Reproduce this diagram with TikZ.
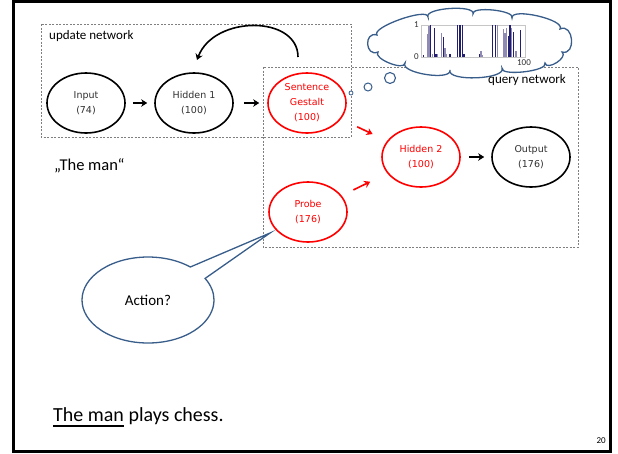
\documentclass[tikz,border=0pt]{standalone}
\usepackage{fontspec}
\setmainfont{Carlito}
\newfontfamily\unitfont{DejaVu Sans}
\usetikzlibrary{arrows.meta,shapes.geometric,shapes.callouts,calc}

\definecolor{shapeblue}{HTML}{385D8A}
\definecolor{barnavy}{HTML}{231F70}
\definecolor{barlilac}{HTML}{8E8AB4}
\definecolor{boxgray}{HTML}{7F7F7F}
\definecolor{labelgray}{HTML}{303030}

% one rounded puff of the thought cloud, bulging outward from #1 to #2
\newcommand{\puffto}[3]{.. controls ($(#1)!#3!110:(#2)$) and ($(#2)!#3!-110:(#1)$) .. (#2)}

\begin{document}
\begin{tikzpicture}[x=1pt,y=-1pt,
  unit/.style={ellipse, draw=black, line width=1.6pt, minimum width=78pt,
    minimum height=60pt, inner sep=0pt, align=center,
    font=\unitfont\fontsize{9.5}{15}\selectfont, text=labelgray},
  redunit/.style={unit, draw=red, text=red},
  netbox/.style={draw=boxgray, line width=0.7pt, dash pattern=on 2pt off 1.5pt},
  flow/.style={-{Stealth[length=6pt,width=7.5pt]}, line width=1.6pt},
  redflow/.style={flow, draw=red},
  netlabel/.style={font=\fontsize{13}{15}\selectfont, inner sep=0pt, anchor=base west},
  bubble/.style={draw=shapeblue, line width=1.3pt, fill=white},
  darkbar/.style={draw=barnavy, line width=1.2pt},
  lightbar/.style={draw=barlilac, line width=1.2pt},
  ticklabel/.style={font=\fontsize{9}{10}\selectfont, inner sep=0pt, text=labelgray}
]
\useasboundingbox (0,0) rectangle (618,453);

% slide frame
\draw[line width=3pt] (13.5,1.5) rectangle (610.5,451.5);

% network groupings
\draw[netbox] (41,24) rectangle (351,137);
\node[netlabel] (updlabel) at (49,39) {update network};
\draw[netbox] (263,67) rectangle (578,247);

% units
\node[unit] (input) at (86,103) {Input\\(74)};
\node[unit] (hid1) at (194,103) {Hidden 1\\(100)};
\node[redunit] (sg) at (307,103) {Sentence\\Gestalt\\(100)};
\node[redunit] (hid2) at (421,157) {Hidden 2\\(100)};
\node[unit] (output) at (531,157) {Output\\(176)};
\node[redunit] (probe) at (308,212) {Probe\\(176)};

% connections
\draw[flow, shorten <=7pt, shorten >=7pt] (input) -- (hid1);
\draw[flow, shorten <=10pt, shorten >=8pt] (hid1) -- (sg);
\draw[redflow, shorten <=18pt, shorten >=16pt] (sg) -- (hid2);
\draw[redflow, shorten <=13pt, shorten >=19pt] (probe) -- (hid2);
\draw[flow, shorten <=8pt, shorten >=7pt] (hid2) -- (output);

% recurrent loop back to Hidden 1
\coordinate (loopstart) at (298,57);
\coordinate (loopend) at (197,60);
\draw[flow] (loopstart) .. controls (298,15) and (214,15) .. (loopend);

% thought cloud: dips between the puffs, clockwise from the upper left
\coordinate (d1) at (377,35);
\coordinate (d2) at (428,17);
\coordinate (d3) at (473,14);
\coordinate (d4) at (512,18);
\coordinate (d5) at (560,29);
\coordinate (d6) at (562,52);
\coordinate (d7) at (545,63);
\coordinate (d8) at (502,68);
\coordinate (d9) at (450,70);
\coordinate (d10) at (405,63);
\coordinate (d11) at (378,52);
\draw[bubble] (d1) \puffto{d1}{d2}{10pt} \puffto{d2}{d3}{10pt} \puffto{d3}{d4}{8.5pt}
  \puffto{d4}{d5}{11pt} \puffto{d5}{d6}{15pt} \puffto{d6}{d7}{8.5pt}
  \puffto{d7}{d8}{9pt} \puffto{d8}{d9}{12.5pt} \puffto{d9}{d10}{11.5pt}
  \puffto{d10}{d11}{8.5pt} \puffto{d11}{d1}{14pt} -- cycle;
\draw[bubble, line width=1.1pt] (390,78) circle (5.5);
\draw[bubble, line width=1.0pt] (368,87) circle (4);
\draw[bubble, line width=0.8pt] (351,93) circle (2);

\node[netlabel] (qrylabel) at (488,83) {query network};

\draw[gray!45, line width=0.5pt] (421,25) rectangle (525,57);
\node[ticklabel, anchor=east] (one) at (419,25) {1};
\node[ticklabel, anchor=east] (zero) at (419,57) {0};
\node[ticklabel] (hundred) at (524,63) {100};
\foreach \bx/\bh in {427.3/0.72, 429.0/0.97, 432.3/0.1, 437.3/0.08, 441.7/0.74,
    445.0/0.28, 446.7/0.1, 481.0/0.18, 482.7/0.05, 497.3/1.0, 503.3/0.87,
    505.0/0.74, 506.7/0.92, 511.7/0.92, 516.0/0.2}
  \draw[lightbar] (\bx,57) -- (\bx,{57-32*\bh});
\foreach \bx/\bh in {423.3/0.05, 430.7/1.0, 434.3/0.92, 436.0/0.1, 443.3/0.63,
    450.0/0.08, 457.3/1.0, 460.0/1.0, 462.3/1.0, 464.0/0.08, 479.3/0.1,
    492.7/1.0, 495.7/1.0, 508.3/0.66, 510.0/1.0, 513.3/0.78, 520.7/0.85}
  \draw[darkbar] (\bx,57) -- (\bx,{57-32*\bh});

% speech bubble pointing at the probe
\coordinate (tip) at (270,233);
\node[ellipse callout, bubble, minimum width=132pt, minimum height=86pt,
      callout absolute pointer={(tip)}, callout pointer arc=20,
      font=\fontsize{15}{17}\selectfont] (ask) at (148,300) {Action?};

% sentence fragments
\node[font=\fontsize{16.5}{18}\selectfont, anchor=base west, inner sep=0pt] (fragment) at (54,170) {„The man“};
\node[font=\fontsize{20}{22}\selectfont, anchor=base west, inner sep=0pt] (sentence) at (53,421) {The man plays chess.};
\node[font=\fontsize{20}{22}\selectfont, anchor=base west, inner sep=0pt] (subject) at (53,421) {\phantom{The man}};
\draw[line width=2.5pt] ($(subject.base west)+(0,5)$) -- ($(subject.base east)+(0,5)$);

% page number
\node[font=\fontsize{9}{10}\selectfont, anchor=base east, inner sep=0pt] (pagenum) at (606,443) {20};
\end{tikzpicture}
\end{document}
